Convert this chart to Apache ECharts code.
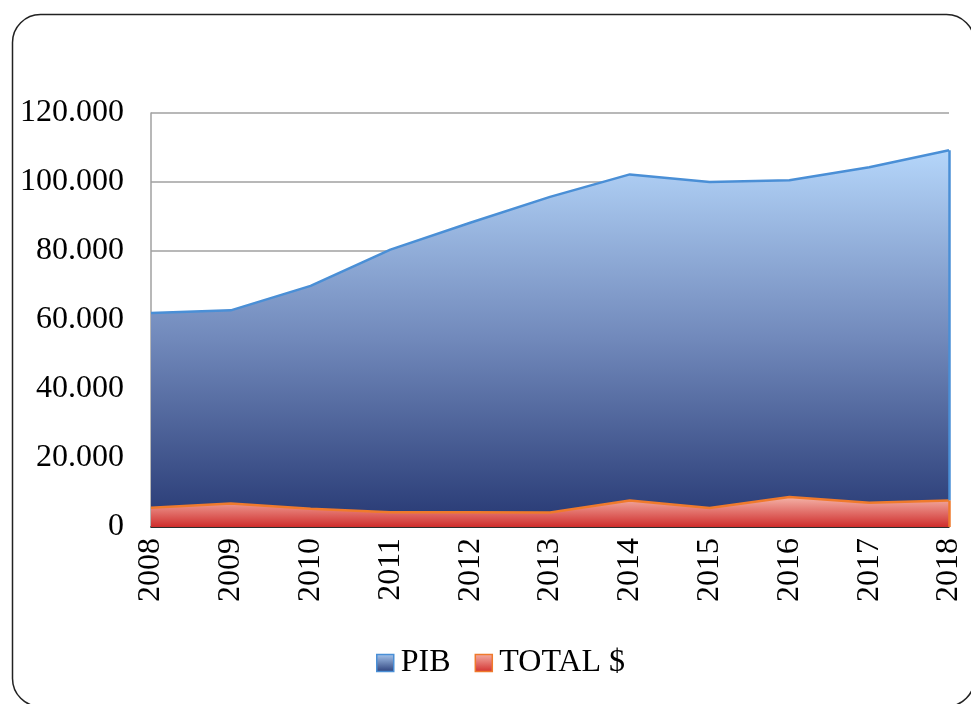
<!DOCTYPE html>
<html><head><meta charset="utf-8">
<script src="https://cdn.jsdelivr.net/npm/echarts@6/dist/echarts.min.js"></script>
<style>html,body{margin:0;padding:0;background:#fff}#c{width:971px;height:704px}</style>
</head><body><div id="c"></div>
<script>
const years = ['2008','2009','2010','2011','2012','2013','2014','2015','2016','2017','2018'];
const pib = [62.0, 62.8, 69.9, 80.4, 88.2, 95.7, 102.2, 100.0, 100.5, 104.3, 109.2];
const total = [5.6, 6.8, 5.3, 4.3, 4.3, 4.2, 7.7, 5.5, 8.7, 7.0, 7.7];
const yTicks = ['0','20.000','40.000','60.000','80.000','100.000','120.000'];

const font = 'Liberation Serif, Times New Roman, serif';
const last = years.length - 1;
const chart = echarts.init(document.getElementById('c'));
chart.setOption({
  animation: false,
  backgroundColor: '#fff',
  graphic: [{
    type: 'rect', left: 10, top: 12, z: -1,
    shape: { width: 962, height: 692, r: 28 },
    style: { fill: 'none', stroke: '#222', lineWidth: 1.5 }
  }],
  grid: { left: 151, right: 22, top: 113, bottom: 177 },
  legend: {
    bottom: 20, left: 371, itemWidth: 17, itemHeight: 17, itemGap: 24,
    textStyle: { fontFamily: font, fontSize: 32, color: '#000', padding: [0,0,0,2] },
    data: [
      { name: 'PIB', icon: 'rect', itemStyle: { color: new echarts.graphic.LinearGradient(0,0,0,1,[{offset:0,color:'#a9c8ef'},{offset:1,color:'#2b3f7a'}]), borderColor: '#4a8fd6', borderWidth: 1.5 } },
      { name: 'TOTAL $', icon: 'rect', itemStyle: { color: new echarts.graphic.LinearGradient(0,0,0,1,[{offset:0,color:'#f4b0a6'},{offset:1,color:'#d2302e'}]), borderColor: '#ef7a2c', borderWidth: 1.5 } }
    ]
  },
  xAxis: {
    type: 'category', data: years, boundaryGap: false,
    axisLine: { lineStyle: { color: '#000', width: 1.5 } },
    axisTick: { show: false },
    axisLabel: { rotate: 90, margin: 11, fontFamily: font, fontSize: 32, color: '#000' }
  },
  yAxis: {
    type: 'value', min: 0, max: 120, interval: 20,
    axisLine: { show: true, lineStyle: { color: '#a0a0a0', width: 1.5 } },
    axisTick: { show: false },
    splitLine: { lineStyle: { color: '#a0a0a0', width: 1.5 } },
    axisLabel: { margin: 27, fontFamily: font, fontSize: 32, color: '#000',
      formatter: (v) => yTicks[Math.round(v / 20)] }
  },
  series: [
    { name: 'PIB', type: 'line', data: pib, symbol: 'none',
      lineStyle: { color: '#4a8fd6', width: 2.5 },
      itemStyle: { color: '#4a8fd6' },
      areaStyle: { opacity: 1, color: new echarts.graphic.LinearGradient(0,0,0,1,[{offset:0,color:'#b5d6fa'},{offset:0.5,color:'#7189bb'},{offset:1,color:'#263873'}]) },
      markLine: { silent: true, symbol: 'none', label: { show: false },
        lineStyle: { color: '#4a8fd6', width: 2.5, type: 'solid' },
        data: [[{ coord: [years[last], total[last]] }, { coord: [years[last], pib[last]] }]] } },
    { name: 'TOTAL $', type: 'line', data: total, symbol: 'none',
      lineStyle: { color: '#ef7a2c', width: 2.5 },
      itemStyle: { color: '#ef7a2c' },
      areaStyle: { opacity: 1, color: new echarts.graphic.LinearGradient(0,0,0,1,[{offset:0,color:'#f4b3a8'},{offset:1,color:'#cf2d2c'}]) },
      markLine: { silent: true, symbol: 'none', label: { show: false },
        lineStyle: { color: '#ef7a2c', width: 2.5, type: 'solid' },
        data: [[{ coord: [years[last], 0] }, { coord: [years[last], total[last]] }]] } }
  ]
});
</script></body></html>
